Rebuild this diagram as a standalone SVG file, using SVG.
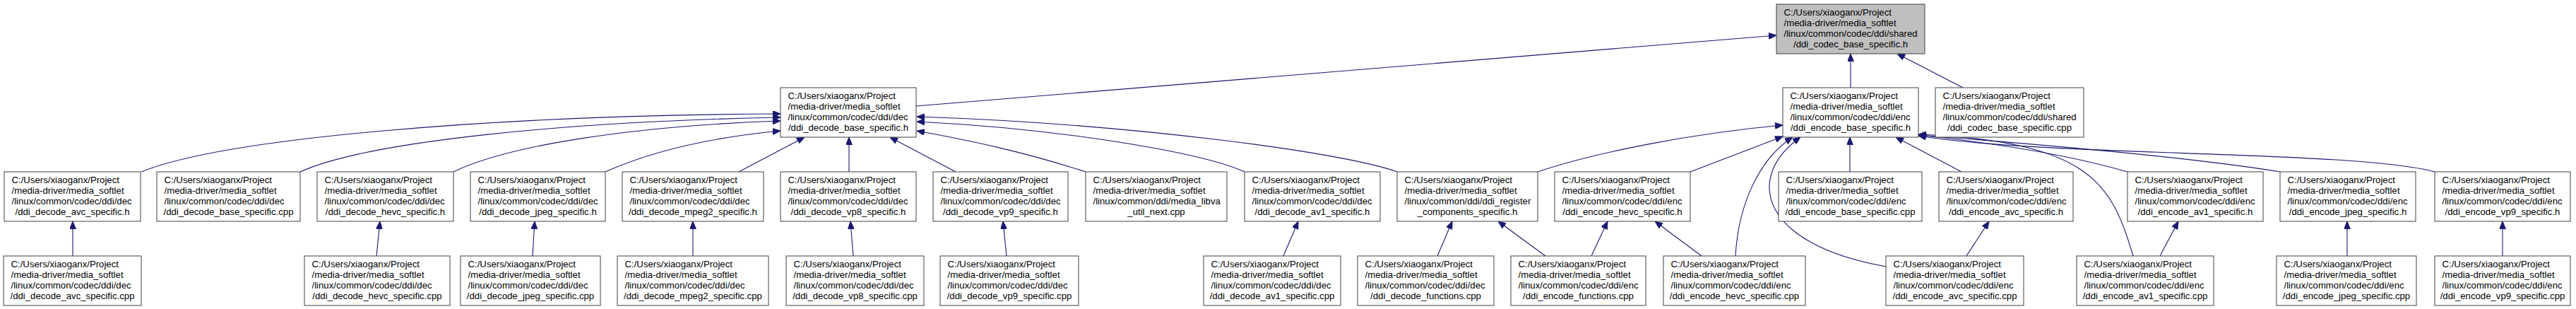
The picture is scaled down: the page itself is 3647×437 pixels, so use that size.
<svg xmlns="http://www.w3.org/2000/svg" width="3647" height="437" viewBox="0 0 3647 437">
<style>
rect{fill:#fff;stroke:#404040;stroke-width:1}
.root rect{fill:#bfbfbf}
text{font-family:"Liberation Sans",Arial,sans-serif;font-size:13.2px;fill:#000}
.c{text-anchor:middle}
#edges path{fill:none;stroke:#191970;stroke-width:1.1;marker-end:url(#a)}
</style>
<defs>
<marker id="a" markerWidth="11" markerHeight="9" refX="11" refY="4.5" orient="auto" markerUnits="userSpaceOnUse"><path d="M0,0 L11,4.5 L0,9 z" fill="#191970" stroke="#191970" stroke-width="1"/></marker>
</defs>
<g id="edges">
<path d="M1297,150 L2515,50"/>
<path d="M2620,124 L2620,76"/>
<path d="M2779,124 L2686,76"/>
<path d="M200,243 C320,195 700,163 1105,161"/>
<path d="M425,243 C520,200 800,172 1105,166"/>
<path d="M642,243 C720,205 900,178 1105,171"/>
<path d="M857,243 C920,215 1000,195 1105,185"/>
<path d="M1046,243 L1139,194"/>
<path d="M1202,243 L1202,194"/>
<path d="M1353,243 L1260,194"/>
<path d="M1537,243 C1450,215 1380,200 1298,185"/>
<path d="M1762,243 C1700,215 1500,182 1298,172"/>
<path d="M1978,243 C1900,215 1600,175 1298,165"/>
<path d="M2177,243 C2260,215 2400,188 2524,177"/>
<path d="M2393,243 L2524,193"/>
<path d="M2457,362 C2461,290 2490,225 2538,194"/>
<path d="M2670,377 C2490,345 2470,250 2549,194"/>
<path d="M2619,243 L2619,194"/>
<path d="M2777,243 L2684,194"/>
<path d="M3020,362 C2990,260 2960,200 2716,190"/>
<path d="M3012,243 C2950,225 2850,205 2716,191"/>
<path d="M3228,243 C3100,222 2900,205 2716,191"/>
<path d="M3447,243 C3330,212 2900,222 2716,192"/>
<path d="M103,362 L103,313"/>
<path d="M533,362 L538,313"/>
<path d="M754,362 L757,313"/>
<path d="M981,362 L981,313"/>
<path d="M1208,362 L1204,313"/>
<path d="M1425,362 L1420,313"/>
<path d="M1817,362 L1838,313"/>
<path d="M2035,362 L2056,313"/>
<path d="M2188,362 L2121,313"/>
<path d="M2253,362 L2276,313"/>
<path d="M2409,362 L2343,313"/>
<path d="M2784,362 L2816,313"/>
<path d="M3058,362 L3084,313"/>
<path d="M3323,362 L3323,313"/>
<path d="M3543,362 L3543,313"/>
</g>
<g id="root" class="root"><rect x="2515" y="6" width="210" height="70"/><text x="2525.5" y="22">C:/Users/xiaoganx/Project</text><text x="2525.5" y="37">/media-driver/media_softlet</text><text x="2525.5" y="52">/linux/common/codec/ddi/shared</text><text class="c" x="2620" y="67">/ddi_codec_base_specific.h</text></g>
<g id="decode_base_h"><rect x="1105" y="124" width="192" height="70"/><text x="1115.5" y="140">C:/Users/xiaoganx/Project</text><text x="1115.5" y="155">/media-driver/media_softlet</text><text x="1115.5" y="170">/linux/common/codec/ddi/dec</text><text class="c" x="1201" y="185">/ddi_decode_base_specific.h</text></g>
<g id="encode_base_h"><rect x="2524" y="124" width="192" height="70"/><text x="2534.5" y="140">C:/Users/xiaoganx/Project</text><text x="2534.5" y="155">/media-driver/media_softlet</text><text x="2534.5" y="170">/linux/common/codec/ddi/enc</text><text class="c" x="2620" y="185">/ddi_encode_base_specific.h</text></g>
<g id="codec_base_cpp"><rect x="2740" y="124" width="210" height="70"/><text x="2750.5" y="140">C:/Users/xiaoganx/Project</text><text x="2750.5" y="155">/media-driver/media_softlet</text><text x="2750.5" y="170">/linux/common/codec/ddi/shared</text><text class="c" x="2845" y="185">/ddi_codec_base_specific.cpp</text></g>
<g id="decode_avc_h"><rect x="6" y="243" width="193" height="70"/><text x="16.5" y="259">C:/Users/xiaoganx/Project</text><text x="16.5" y="274">/media-driver/media_softlet</text><text x="16.5" y="289">/linux/common/codec/ddi/dec</text><text class="c" x="102.5" y="304">/ddi_decode_avc_specific.h</text></g>
<g id="decode_base_cpp"><rect x="222" y="243" width="203" height="70"/><text x="232.5" y="259">C:/Users/xiaoganx/Project</text><text x="232.5" y="274">/media-driver/media_softlet</text><text x="232.5" y="289">/linux/common/codec/ddi/dec</text><text class="c" x="323.5" y="304">/ddi_decode_base_specific.cpp</text></g>
<g id="decode_hevc_h"><rect x="449" y="243" width="193" height="70"/><text x="459.5" y="259">C:/Users/xiaoganx/Project</text><text x="459.5" y="274">/media-driver/media_softlet</text><text x="459.5" y="289">/linux/common/codec/ddi/dec</text><text class="c" x="545.5" y="304">/ddi_decode_hevc_specific.h</text></g>
<g id="decode_jpeg_h"><rect x="666" y="243" width="191" height="70"/><text x="676.5" y="259">C:/Users/xiaoganx/Project</text><text x="676.5" y="274">/media-driver/media_softlet</text><text x="676.5" y="289">/linux/common/codec/ddi/dec</text><text class="c" x="761.5" y="304">/ddi_decode_jpeg_specific.h</text></g>
<g id="decode_mpeg2_h"><rect x="881" y="243" width="200" height="70"/><text x="891.5" y="259">C:/Users/xiaoganx/Project</text><text x="891.5" y="274">/media-driver/media_softlet</text><text x="891.5" y="289">/linux/common/codec/ddi/dec</text><text class="c" x="981" y="304">/ddi_decode_mpeg2_specific.h</text></g>
<g id="decode_vp8_h"><rect x="1105" y="243" width="192" height="70"/><text x="1115.5" y="259">C:/Users/xiaoganx/Project</text><text x="1115.5" y="274">/media-driver/media_softlet</text><text x="1115.5" y="289">/linux/common/codec/ddi/dec</text><text class="c" x="1201" y="304">/ddi_decode_vp8_specific.h</text></g>
<g id="decode_vp9_h"><rect x="1321" y="243" width="191" height="70"/><text x="1331.5" y="259">C:/Users/xiaoganx/Project</text><text x="1331.5" y="274">/media-driver/media_softlet</text><text x="1331.5" y="289">/linux/common/codec/ddi/dec</text><text class="c" x="1416.5" y="304">/ddi_decode_vp9_specific.h</text></g>
<g id="libva_util_next_cpp"><rect x="1537" y="243" width="200" height="70"/><text x="1547.5" y="259">C:/Users/xiaoganx/Project</text><text x="1547.5" y="274">/media-driver/media_softlet</text><text x="1547.5" y="289">/linux/common/ddi/media_libva</text><text class="c" x="1637" y="304">_util_next.cpp</text></g>
<g id="decode_av1_h"><rect x="1762" y="243" width="192" height="70"/><text x="1772.5" y="259">C:/Users/xiaoganx/Project</text><text x="1772.5" y="274">/media-driver/media_softlet</text><text x="1772.5" y="289">/linux/common/codec/ddi/dec</text><text class="c" x="1858" y="304">/ddi_decode_av1_specific.h</text></g>
<g id="register_components_h"><rect x="1978" y="243" width="199" height="70"/><text x="1988.5" y="259">C:/Users/xiaoganx/Project</text><text x="1988.5" y="274">/media-driver/media_softlet</text><text x="1988.5" y="289">/linux/common/ddi/ddi_register</text><text class="c" x="2077.5" y="304">_components_specific.h</text></g>
<g id="encode_hevc_h"><rect x="2201" y="243" width="192" height="70"/><text x="2211.5" y="259">C:/Users/xiaoganx/Project</text><text x="2211.5" y="274">/media-driver/media_softlet</text><text x="2211.5" y="289">/linux/common/codec/ddi/enc</text><text class="c" x="2297" y="304">/ddi_encode_hevc_specific.h</text></g>
<g id="encode_base_cpp"><rect x="2518" y="243" width="203" height="70"/><text x="2528.5" y="259">C:/Users/xiaoganx/Project</text><text x="2528.5" y="274">/media-driver/media_softlet</text><text x="2528.5" y="289">/linux/common/codec/ddi/enc</text><text class="c" x="2619.5" y="304">/ddi_encode_base_specific.cpp</text></g>
<g id="encode_avc_h"><rect x="2745" y="243" width="190" height="70"/><text x="2755.5" y="259">C:/Users/xiaoganx/Project</text><text x="2755.5" y="274">/media-driver/media_softlet</text><text x="2755.5" y="289">/linux/common/codec/ddi/enc</text><text class="c" x="2840" y="304">/ddi_encode_avc_specific.h</text></g>
<g id="encode_av1_h"><rect x="3012" y="243" width="192" height="70"/><text x="3022.5" y="259">C:/Users/xiaoganx/Project</text><text x="3022.5" y="274">/media-driver/media_softlet</text><text x="3022.5" y="289">/linux/common/codec/ddi/enc</text><text class="c" x="3108" y="304">/ddi_encode_av1_specific.h</text></g>
<g id="encode_jpeg_h"><rect x="3228" y="243" width="192" height="70"/><text x="3238.5" y="259">C:/Users/xiaoganx/Project</text><text x="3238.5" y="274">/media-driver/media_softlet</text><text x="3238.5" y="289">/linux/common/codec/ddi/enc</text><text class="c" x="3324" y="304">/ddi_encode_jpeg_specific.h</text></g>
<g id="encode_vp9_h"><rect x="3447" y="243" width="192" height="70"/><text x="3457.5" y="259">C:/Users/xiaoganx/Project</text><text x="3457.5" y="274">/media-driver/media_softlet</text><text x="3457.5" y="289">/linux/common/codec/ddi/enc</text><text class="c" x="3543" y="304">/ddi_encode_vp9_specific.h</text></g>
<g id="decode_avc_cpp"><rect x="5" y="362" width="195" height="70"/><text x="15.5" y="378">C:/Users/xiaoganx/Project</text><text x="15.5" y="393">/media-driver/media_softlet</text><text x="15.5" y="408">/linux/common/codec/ddi/dec</text><text class="c" x="102.5" y="423">/ddi_decode_avc_specific.cpp</text></g>
<g id="decode_hevc_cpp"><rect x="431" y="362" width="206" height="70"/><text x="441.5" y="378">C:/Users/xiaoganx/Project</text><text x="441.5" y="393">/media-driver/media_softlet</text><text x="441.5" y="408">/linux/common/codec/ddi/dec</text><text class="c" x="534" y="423">/ddi_decode_hevc_specific.cpp</text></g>
<g id="decode_jpeg_cpp"><rect x="652" y="362" width="198" height="70"/><text x="662.5" y="378">C:/Users/xiaoganx/Project</text><text x="662.5" y="393">/media-driver/media_softlet</text><text x="662.5" y="408">/linux/common/codec/ddi/dec</text><text class="c" x="751" y="423">/ddi_decode_jpeg_specific.cpp</text></g>
<g id="decode_mpeg2_cpp"><rect x="874" y="362" width="214" height="70"/><text x="884.5" y="378">C:/Users/xiaoganx/Project</text><text x="884.5" y="393">/media-driver/media_softlet</text><text x="884.5" y="408">/linux/common/codec/ddi/dec</text><text class="c" x="981" y="423">/ddi_decode_mpeg2_specific.cpp</text></g>
<g id="decode_vp8_cpp"><rect x="1113" y="362" width="195" height="70"/><text x="1123.5" y="378">C:/Users/xiaoganx/Project</text><text x="1123.5" y="393">/media-driver/media_softlet</text><text x="1123.5" y="408">/linux/common/codec/ddi/dec</text><text class="c" x="1210.5" y="423">/ddi_decode_vp8_specific.cpp</text></g>
<g id="decode_vp9_cpp"><rect x="1331" y="362" width="196" height="70"/><text x="1341.5" y="378">C:/Users/xiaoganx/Project</text><text x="1341.5" y="393">/media-driver/media_softlet</text><text x="1341.5" y="408">/linux/common/codec/ddi/dec</text><text class="c" x="1429" y="423">/ddi_decode_vp9_specific.cpp</text></g>
<g id="decode_av1_cpp"><rect x="1704" y="362" width="194" height="70"/><text x="1714.5" y="378">C:/Users/xiaoganx/Project</text><text x="1714.5" y="393">/media-driver/media_softlet</text><text x="1714.5" y="408">/linux/common/codec/ddi/dec</text><text class="c" x="1801" y="423">/ddi_decode_av1_specific.cpp</text></g>
<g id="decode_functions_cpp"><rect x="1922" y="362" width="193" height="70"/><text x="1932.5" y="378">C:/Users/xiaoganx/Project</text><text x="1932.5" y="393">/media-driver/media_softlet</text><text x="1932.5" y="408">/linux/common/codec/ddi/dec</text><text class="c" x="2018.5" y="423">/ddi_decode_functions.cpp</text></g>
<g id="encode_functions_cpp"><rect x="2139" y="362" width="191" height="70"/><text x="2149.5" y="378">C:/Users/xiaoganx/Project</text><text x="2149.5" y="393">/media-driver/media_softlet</text><text x="2149.5" y="408">/linux/common/codec/ddi/enc</text><text class="c" x="2234.5" y="423">/ddi_encode_functions.cpp</text></g>
<g id="encode_hevc_cpp"><rect x="2355" y="362" width="201" height="70"/><text x="2365.5" y="378">C:/Users/xiaoganx/Project</text><text x="2365.5" y="393">/media-driver/media_softlet</text><text x="2365.5" y="408">/linux/common/codec/ddi/enc</text><text class="c" x="2455.5" y="423">/ddi_encode_hevc_specific.cpp</text></g>
<g id="encode_avc_cpp"><rect x="2670" y="362" width="195" height="70"/><text x="2680.5" y="378">C:/Users/xiaoganx/Project</text><text x="2680.5" y="393">/media-driver/media_softlet</text><text x="2680.5" y="408">/linux/common/codec/ddi/enc</text><text class="c" x="2767.5" y="423">/ddi_encode_avc_specific.cpp</text></g>
<g id="encode_av1_cpp"><rect x="2940" y="362" width="194" height="70"/><text x="2950.5" y="378">C:/Users/xiaoganx/Project</text><text x="2950.5" y="393">/media-driver/media_softlet</text><text x="2950.5" y="408">/linux/common/codec/ddi/enc</text><text class="c" x="3037" y="423">/ddi_encode_av1_specific.cpp</text></g>
<g id="encode_jpeg_cpp"><rect x="3223" y="362" width="198" height="70"/><text x="3233.5" y="378">C:/Users/xiaoganx/Project</text><text x="3233.5" y="393">/media-driver/media_softlet</text><text x="3233.5" y="408">/linux/common/codec/ddi/enc</text><text class="c" x="3322" y="423">/ddi_encode_jpeg_specific.cpp</text></g>
<g id="encode_vp9_cpp"><rect x="3447" y="362" width="192" height="70"/><text x="3457.5" y="378">C:/Users/xiaoganx/Project</text><text x="3457.5" y="393">/media-driver/media_softlet</text><text x="3457.5" y="408">/linux/common/codec/ddi/enc</text><text class="c" x="3543" y="423">/ddi_encode_vp9_specific.cpp</text></g>
</svg>
